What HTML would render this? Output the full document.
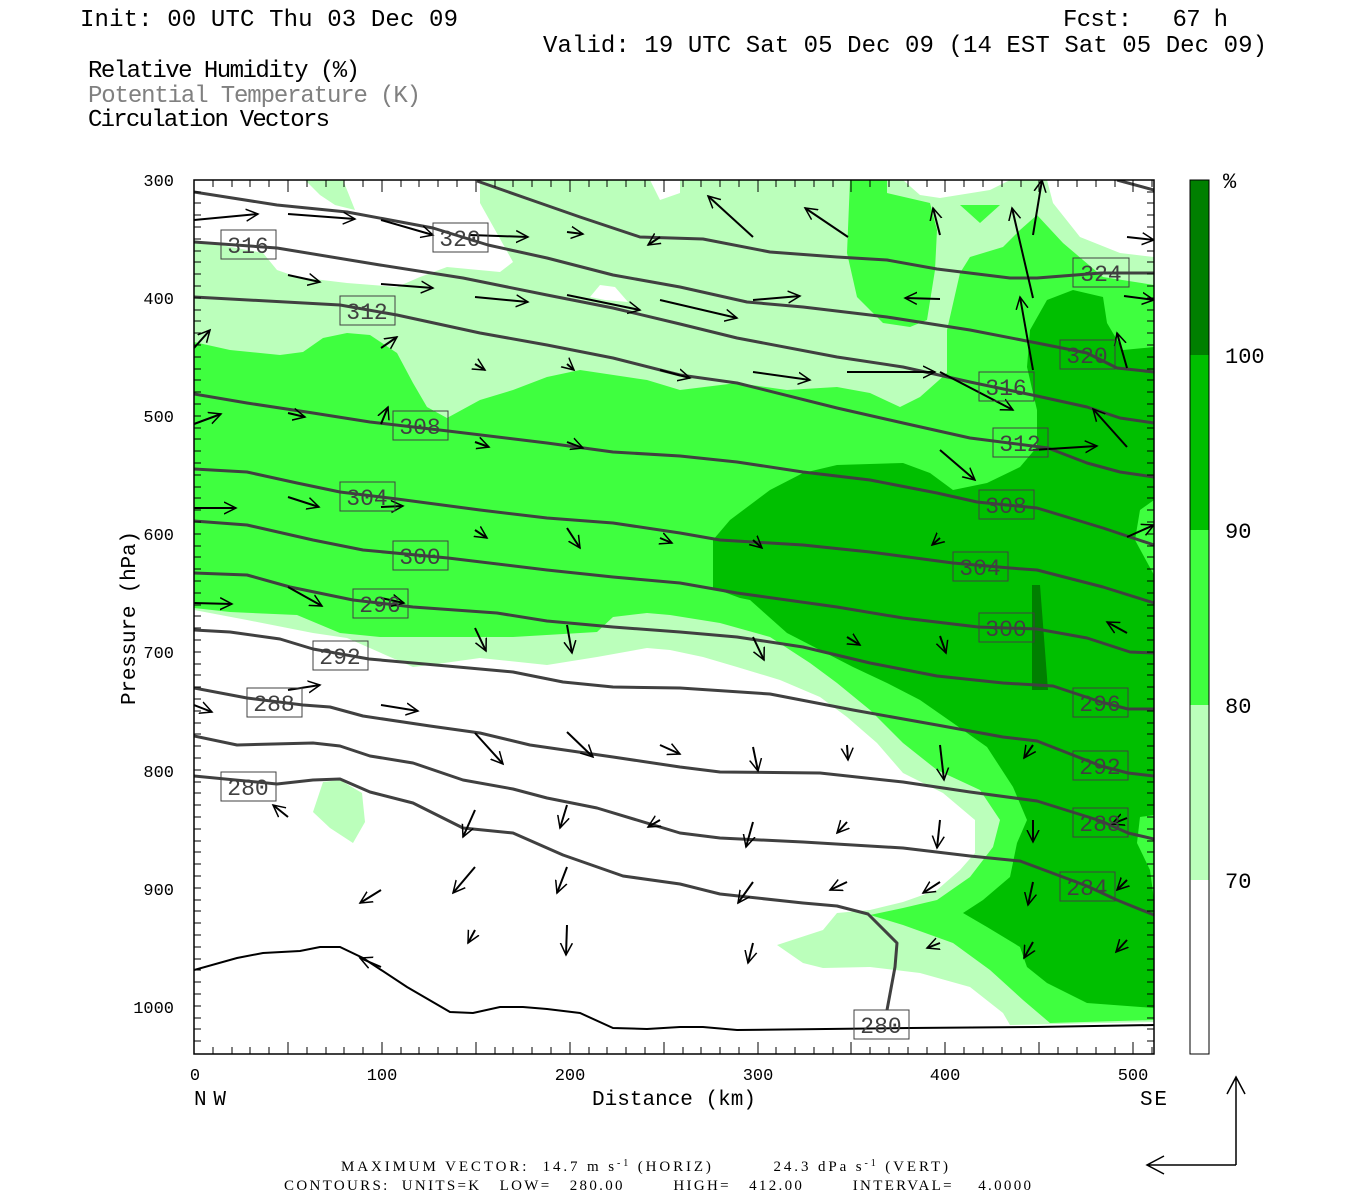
<!DOCTYPE html>
<html><head><meta charset="utf-8"><style>body{margin:0;background:#fff}svg{display:block}</style></head><body>
<svg width="1350" height="1200" viewBox="0 0 1350 1200" xmlns="http://www.w3.org/2000/svg" font-family="Liberation Mono, monospace">
<defs>
<marker id="ah" markerUnits="userSpaceOnUse" markerWidth="14" markerHeight="14" refX="12" refY="7" orient="auto"><path d="M0,1 L12,7 L0,13" fill="none" stroke="#000" stroke-width="1.5"/></marker>
<clipPath id="pc"><rect x="194" y="180" width="960" height="874"/></clipPath>
</defs>
<g font-size="24" fill="#000">
<text x="80" y="26" textLength="378">Init: 00 UTC Thu 03 Dec 09</text>
<text x="1063" y="26" textLength="165" xml:space="preserve">Fcst:   67 h</text>
<text x="543" y="52" textLength="724">Valid: 19 UTC Sat 05 Dec 09 (14 EST Sat 05 Dec 09)</text>
<text x="88" y="77" textLength="272">Relative Humidity (%)</text>
<text x="88" y="102" textLength="333" fill="#808080">Potential Temperature (K)</text>
<text x="88" y="126" textLength="242">Circulation Vectors</text>
</g>
<g clip-path="url(#pc)">
<polygon fill="#bbffbb" points="194,180 1154,180 1154,1022 1010,1025 1003,1013 970,987 920,973 870,967 823,968 803,963 777,945 823,930 837,913 870,910 903,902 937,890 960,870 975,853 975,820 943,793 903,773 877,743 847,717 820,697 780,680 737,667 703,657 670,650 647,648 597,657 547,665 480,658 430,665 413,667 347,638 313,633 247,620 194,610"/>
<polygon fill="#fff" points="194,180 305,180 320,195 335,205 355,210 343,180 480,180 480,203 513,262 500,272 447,267 420,277 397,287 347,283 297,277 277,270 263,253 194,240"/>
<polygon fill="#fff" points="590,297 600,285 615,287 628,302 605,300"/>
<polygon fill="#fff" points="650,180 680,180 680,193 660,200"/>
<polygon fill="#fff" points="903,180 1010,180 990,190 940,198 920,195"/>
<polygon fill="#fff" points="1047,180 1154,180 1154,257 1120,253 1080,237 1053,203"/>
<polygon fill="#bbffbb" points="313,812 323,782 340,780 362,793 365,822 353,843 330,828"/>
<polygon fill="#3fff3f" points="194,342 230,350 280,355 303,352 323,338 347,333 370,335 397,353 413,383 427,407 447,418 480,400 513,390 547,377 580,370 647,380 680,390 737,383 787,390 837,387 870,393 900,407 920,397 947,373 947,330 960,273 970,257 1003,247 1020,230 1037,215 1063,243 1103,277 1154,285 1154,1020 1050,1023 1023,1000 990,970 953,943 903,925 870,915 903,908 937,900 970,877 993,847 1000,820 980,790 937,770 903,743 870,710 837,683 810,663 770,637 720,623 670,615 647,613 613,617 597,632 513,637 380,637 340,633 297,615 230,612 194,608"/>
<polygon fill="#3fff3f" points="850,180 887,180 887,193 930,203 937,230 935,270 927,320 910,327 883,323 857,297 847,253"/>
<polygon fill="#3fff3f" points="960,205 1000,205 980,223"/>
<polygon fill="#00bf00" points="713,540 730,520 770,490 803,473 837,465 903,463 930,473 953,490 987,483 1020,467 1037,447 1037,410 1027,367 1030,330 1047,300 1073,290 1103,297 1107,323 1123,350 1154,347 1154,1008 1087,1003 1047,983 1027,967 1020,947 987,927 963,913 983,900 1010,877 1017,843 1027,820 1013,787 987,747 953,723 920,700 887,683 853,667 820,650 787,633 750,600 740,598 713,588"/>
<polygon fill="#3fff3f" points="1154,500 1140,510 1135,540 1154,575"/>
<polygon fill="#3fff3f" points="1154,815 1140,817 1137,843 1150,870 1154,900"/>
<polygon fill="#007f00" points="1032,585 1040,585 1048,690 1032,690"/>
<g fill="none" stroke="#404040" stroke-width="3" stroke-linejoin="round">
<polyline points="1117,180 1154,190"/>
<polyline points="477,181 537,202 580,217 640,237 703,239 770,252 837,257 887,260 937,269 1010,278 1037,278 1101,273 1154,273"/>
<polyline points="194,192 277,205 347,212 433,228 488,245 547,258 613,275 680,287 747,302 803,307 887,317 970,330 1037,343 1087,353 1117,368 1154,372"/>
<polyline points="194,242 277,248 380,265 463,278 547,295 613,308 680,324 737,338 837,357 903,367 970,382 1037,396 1087,407 1120,418 1154,423"/>
<polyline points="194,297 340,305 397,315 480,333 547,345 613,358 680,375 737,383 837,408 903,423 970,438 1048,448 1087,463 1120,472 1154,477"/>
<polyline points="194,394 247,403 313,413 370,422 448,431 547,443 613,452 680,456 737,462 803,472 870,480 937,493 977,502 1037,508 1103,528 1154,545"/>
<polyline points="194,469 247,472 297,483 340,492 397,499 480,510 547,518 613,523 680,533 720,540 803,545 870,552 953,563 1010,568 1037,570 1103,587 1154,603"/>
<polyline points="194,521 247,525 313,540 363,550 448,558 547,570 613,577 680,583 737,593 837,607 903,618 978,627 1037,629 1087,638 1130,652 1154,653"/>
<polyline points="194,573 247,575 290,587 353,600 413,607 497,613 547,621 613,627 680,632 737,637 803,647 870,663 937,676 1003,683 1053,686 1101,702 1128,709 1154,709"/>
<polyline points="194,630 230,632 280,639 313,649 369,659 447,666 513,672 563,682 613,687 680,688 770,694 853,710 937,725 1003,737 1037,741 1101,766 1128,773 1154,776"/>
<polyline points="194,688 247,698 303,705 330,707 363,716 430,726 480,733 530,745 613,757 680,767 720,772 820,773 903,782 970,792 1037,801 1101,821 1128,833 1154,839"/>
<polyline points="194,736 237,745 313,743 340,746 370,756 413,763 463,780 513,789 547,798 597,808 680,833 720,838 803,842 903,848 970,856 1020,861 1087,886 1117,900 1154,915"/>
<polyline points="194,776 277,784 313,780 340,779 370,792 413,803 463,828 513,833 563,855 623,876 680,884 720,894 803,903 837,906 868,914 897,943 895,967 887,1010"/>
</g>
<polyline fill="none" stroke="#000" stroke-width="2" points="194,970 237,958 263,953 300,951 320,947 340,947 363,958 407,987 450,1012 473,1013 500,1007 523,1007 547,1009 580,1013 613,1028 647,1029 680,1027 703,1027 737,1030 910,1028 1037,1027 1154,1025"/>
<g stroke="#000" stroke-width="2" marker-end="url(#ah)">
<line x1="194" y1="220" x2="258" y2="214"/><line x1="288" y1="214" x2="355" y2="219"/><line x1="381" y1="220" x2="433" y2="235"/><line x1="470" y1="235" x2="528" y2="237"/><line x1="567" y1="232" x2="583" y2="234"/><line x1="660" y1="237" x2="648" y2="245"/><line x1="753" y1="237" x2="708" y2="196"/><line x1="848" y1="237" x2="805" y2="208"/><line x1="940" y1="235" x2="933" y2="208"/><line x1="1033" y1="298" x2="1012" y2="208"/><line x1="1033" y1="235" x2="1042" y2="180"/><line x1="1127" y1="237" x2="1154" y2="240"/>
<line x1="288" y1="275" x2="320" y2="282"/><line x1="381" y1="284" x2="433" y2="288"/><line x1="475" y1="297" x2="528" y2="302"/><line x1="567" y1="295" x2="640" y2="310"/><line x1="660" y1="300" x2="737" y2="318"/><line x1="753" y1="300" x2="800" y2="296"/><line x1="940" y1="299" x2="905" y2="298"/><line x1="1033" y1="370" x2="1020" y2="297"/><line x1="1124" y1="296" x2="1154" y2="300"/>
<line x1="194" y1="348" x2="210" y2="330"/><line x1="381" y1="348" x2="397" y2="337"/><line x1="475" y1="364" x2="485" y2="370"/><line x1="567" y1="364" x2="574" y2="370"/><line x1="660" y1="370" x2="690" y2="378"/><line x1="753" y1="372" x2="810" y2="380"/><line x1="847" y1="372" x2="935" y2="372"/><line x1="940" y1="372" x2="1013" y2="410"/><line x1="1127" y1="368" x2="1117" y2="333"/>
<line x1="194" y1="424" x2="221" y2="414"/><line x1="288" y1="413" x2="305" y2="417"/><line x1="381" y1="424" x2="388" y2="407"/><line x1="475" y1="442" x2="489" y2="447"/><line x1="567" y1="442" x2="583" y2="448"/><line x1="940" y1="450" x2="975" y2="480"/><line x1="1033" y1="450" x2="1097" y2="446"/><line x1="1127" y1="447" x2="1093" y2="409"/>
<line x1="194" y1="508" x2="236" y2="508"/><line x1="288" y1="497" x2="319" y2="507"/><line x1="381" y1="507" x2="403" y2="506"/><line x1="475" y1="530" x2="487" y2="538"/><line x1="567" y1="528" x2="580" y2="548"/><line x1="660" y1="538" x2="672" y2="543"/><line x1="753" y1="540" x2="762" y2="548"/><line x1="940" y1="538" x2="932" y2="545"/><line x1="1127" y1="537" x2="1154" y2="525"/>
<line x1="194" y1="603" x2="232" y2="604"/><line x1="288" y1="587" x2="322" y2="606"/><line x1="381" y1="598" x2="404" y2="603"/><line x1="475" y1="628" x2="486" y2="651"/><line x1="567" y1="625" x2="572" y2="653"/><line x1="753" y1="637" x2="764" y2="660"/><line x1="847" y1="637" x2="860" y2="645"/><line x1="940" y1="636" x2="946" y2="653"/><line x1="1127" y1="633" x2="1107" y2="622"/>
<line x1="194" y1="705" x2="212" y2="712"/><line x1="288" y1="690" x2="320" y2="685"/><line x1="381" y1="705" x2="418" y2="711"/><line x1="475" y1="733" x2="503" y2="764"/><line x1="567" y1="732" x2="593" y2="757"/><line x1="660" y1="745" x2="680" y2="754"/><line x1="753" y1="747" x2="758" y2="771"/><line x1="847" y1="745" x2="848" y2="760"/><line x1="940" y1="745" x2="944" y2="780"/><line x1="1033" y1="745" x2="1024" y2="758"/>
<line x1="288" y1="817" x2="273" y2="805"/><line x1="475" y1="810" x2="463" y2="837"/><line x1="567" y1="805" x2="560" y2="828"/><line x1="660" y1="820" x2="648" y2="827"/><line x1="753" y1="822" x2="746" y2="847"/><line x1="847" y1="822" x2="837" y2="833"/><line x1="940" y1="820" x2="937" y2="848"/><line x1="1033" y1="820" x2="1033" y2="842"/><line x1="1127" y1="818" x2="1112" y2="824"/>
<line x1="381" y1="890" x2="360" y2="903"/><line x1="475" y1="867" x2="453" y2="893"/><line x1="567" y1="867" x2="557" y2="893"/><line x1="753" y1="882" x2="738" y2="903"/><line x1="847" y1="882" x2="830" y2="890"/><line x1="940" y1="882" x2="923" y2="893"/><line x1="1033" y1="882" x2="1028" y2="905"/><line x1="1127" y1="880" x2="1117" y2="890"/>
<line x1="381" y1="967" x2="360" y2="958"/><line x1="475" y1="930" x2="468" y2="943"/><line x1="567" y1="925" x2="566" y2="955"/><line x1="753" y1="943" x2="748" y2="963"/><line x1="940" y1="943" x2="927" y2="948"/><line x1="1033" y1="942" x2="1024" y2="958"/><line x1="1127" y1="940" x2="1116" y2="952"/>
</g>
</g>
<g font-size="23" fill="#404040" stroke="#404040" stroke-width="1">
<g fill="none"><rect x="221" y="230" width="55" height="29"/><rect x="433" y="223" width="55" height="29"/><rect x="340" y="296" width="55" height="29"/><rect x="393" y="411" width="55" height="29"/><rect x="340" y="482" width="55" height="29"/><rect x="393" y="541" width="55" height="29"/><rect x="353" y="589" width="55" height="29"/><rect x="313" y="641" width="55" height="29"/><rect x="247" y="688" width="55" height="29"/><rect x="221" y="772" width="55" height="29"/>
<rect x="1073" y="258" width="56" height="29"/><rect x="1060" y="340" width="55" height="29"/><rect x="979" y="372" width="55" height="29"/><rect x="993" y="428" width="55" height="29"/><rect x="979" y="490" width="55" height="29"/><rect x="953" y="552" width="55" height="29"/><rect x="979" y="613" width="55" height="29"/><rect x="1073" y="688" width="55" height="29"/><rect x="1073" y="751" width="55" height="29"/><rect x="1073" y="808" width="55" height="29"/><rect x="1060" y="872" width="55" height="29"/><rect x="854" y="1010" width="55" height="29"/></g>
<g stroke="none" text-anchor="middle">
<text x="248" y="253">316</text><text x="460" y="246">320</text><text x="367" y="319">312</text><text x="420" y="434">308</text><text x="367" y="505">304</text><text x="420" y="564">300</text><text x="380" y="612">296</text><text x="340" y="664">292</text><text x="274" y="711">288</text><text x="248" y="795">280</text>
<text x="1101" y="281">324</text><text x="1087" y="363">320</text><text x="1006" y="395">316</text><text x="1020" y="451">312</text><text x="1006" y="513">308</text><text x="980" y="575">304</text><text x="1006" y="636">300</text><text x="1100" y="711">296</text><text x="1100" y="774">292</text><text x="1100" y="831">288</text><text x="1087" y="895">284</text><text x="881" y="1033">280</text></g>
</g>
<rect x="194" y="180" width="960" height="874" fill="none" stroke="#000" stroke-width="1.5"/>
<g stroke="#000" stroke-width="1">
<path d="M194,192h7M194,203h7M194,215h7M194,227h7M194,239h7M194,251h7M194,262h7M194,274h7M194,286h7M194,298h7M194,310h7M194,321h7M194,333h7M194,345h7M194,357h7M194,369h7M194,380h7M194,392h7M194,404h7M194,416h7M194,428h7M194,439h7M194,451h7M194,463h7M194,475h7M194,487h7M194,498h7M194,510h7M194,522h7M194,534h7M194,546h7M194,557h7M194,569h7M194,581h7M194,593h7M194,605h7M194,616h7M194,628h7M194,640h7M194,652h7M194,664h7M194,675h7M194,687h7M194,699h7M194,711h7M194,723h7M194,734h7M194,746h7M194,758h7M194,770h7M194,782h7M194,793h7M194,805h7M194,817h7M194,829h7M194,841h7M194,852h7M194,864h7M194,876h7M194,888h7M194,900h7M194,911h7M194,923h7M194,935h7M194,947h7M194,959h7M194,970h7M194,982h7M194,994h7M194,1006h7M194,1018h7M194,1029h7M194,1041h7"/>
<path d="M1154,192h-7M1154,203h-7M1154,215h-7M1154,227h-7M1154,239h-7M1154,251h-7M1154,262h-7M1154,274h-7M1154,286h-7M1154,298h-7M1154,310h-7M1154,321h-7M1154,333h-7M1154,345h-7M1154,357h-7M1154,369h-7M1154,380h-7M1154,392h-7M1154,404h-7M1154,416h-7M1154,428h-7M1154,439h-7M1154,451h-7M1154,463h-7M1154,475h-7M1154,487h-7M1154,498h-7M1154,510h-7M1154,522h-7M1154,534h-7M1154,546h-7M1154,557h-7M1154,569h-7M1154,581h-7M1154,593h-7M1154,605h-7M1154,616h-7M1154,628h-7M1154,640h-7M1154,652h-7M1154,664h-7M1154,675h-7M1154,687h-7M1154,699h-7M1154,711h-7M1154,723h-7M1154,734h-7M1154,746h-7M1154,758h-7M1154,770h-7M1154,782h-7M1154,793h-7M1154,805h-7M1154,817h-7M1154,829h-7M1154,841h-7M1154,852h-7M1154,864h-7M1154,876h-7M1154,888h-7M1154,900h-7M1154,911h-7M1154,923h-7M1154,935h-7M1154,947h-7M1154,959h-7M1154,970h-7M1154,982h-7M1154,994h-7M1154,1006h-7M1154,1018h-7M1154,1029h-7M1154,1041h-7"/>
<path d="M213,180v7M232,180v7M250,180v7M269,180v7M288,180v12M307,180v7M326,180v7M344,180v7M363,180v7M382,180v12M401,180v7M419,180v7M438,180v7M457,180v7M476,180v12M495,180v7M513,180v7M532,180v7M551,180v7M570,180v12M589,180v7M607,180v7M626,180v7M645,180v7M664,180v12M683,180v7M701,180v7M720,180v7M739,180v7M758,180v12M776,180v7M795,180v7M814,180v7M833,180v7M851,180v12M870,180v7M889,180v7M908,180v7M927,180v7M945,180v12M964,180v7M983,180v7M1002,180v7M1021,180v7M1039,180v12M1058,180v7M1077,180v7M1096,180v7M1115,180v7M1133,180v12M1152,180v7"/>
<path d="M213,1054v-7M232,1054v-7M250,1054v-7M269,1054v-7M288,1054v-12M307,1054v-7M326,1054v-7M344,1054v-7M363,1054v-7M382,1054v-12M401,1054v-7M419,1054v-7M438,1054v-7M457,1054v-7M476,1054v-12M495,1054v-7M513,1054v-7M532,1054v-7M551,1054v-7M570,1054v-12M589,1054v-7M607,1054v-7M626,1054v-7M645,1054v-7M664,1054v-12M683,1054v-7M701,1054v-7M720,1054v-7M739,1054v-7M758,1054v-12M776,1054v-7M795,1054v-7M814,1054v-7M833,1054v-7M851,1054v-12M870,1054v-7M889,1054v-7M908,1054v-7M927,1054v-7M945,1054v-12M964,1054v-7M983,1054v-7M1002,1054v-7M1021,1054v-7M1039,1054v-12M1058,1054v-7M1077,1054v-7M1096,1054v-7M1115,1054v-7M1133,1054v-12M1152,1054v-7"/>
</g>
<g font-size="17" fill="#000" text-anchor="end">
<text x="174" y="186">300</text><text x="174" y="304">400</text><text x="174" y="422">500</text><text x="174" y="540">600</text><text x="174" y="658">700</text><text x="174" y="777">800</text><text x="174" y="895">900</text><text x="174" y="1013">1000</text>
</g>
<g font-size="17" fill="#000" text-anchor="middle">
<text x="195" y="1080">0</text><text x="382" y="1080">100</text><text x="570" y="1080">200</text><text x="758" y="1080">300</text><text x="945" y="1080">400</text><text x="1133" y="1080">500</text>
</g>
<g font-size="21" fill="#000">
<text x="194" y="1105" textLength="32">NW</text><text x="1140" y="1105" textLength="27">SE</text>
<text x="592" y="1105" textLength="164">Distance (km)</text>
<text transform="translate(135,705) rotate(-90)" textLength="174">Pressure (hPa)</text>
</g>
<rect x="1190" y="180" width="19" height="175" fill="#007f00"/>
<rect x="1190" y="355" width="19" height="175" fill="#00bf00"/>
<rect x="1190" y="530" width="19" height="175" fill="#3fff3f"/>
<rect x="1190" y="705" width="19" height="175" fill="#bbffbb"/>
<rect x="1190" y="880" width="19" height="174" fill="#fff"/>
<rect x="1190" y="180" width="19" height="874" fill="none" stroke="#000" stroke-width="1"/>
<g font-size="22" fill="#000">
<text x="1223" y="188">%</text><text x="1225" y="363">100</text><text x="1225" y="538">90</text><text x="1225" y="713">80</text><text x="1225" y="888">70</text>
</g>
<g font-family="Liberation Serif, serif" font-size="15" fill="#000">
<text x="341" y="1171" xml:space="preserve" textLength="607">MAXIMUM VECTOR:  14.7 m s<tspan dy="-5" font-size="10">-1</tspan><tspan dy="5"> (HORIZ)         24.3 dPa s</tspan><tspan dy="-5" font-size="10">-1</tspan><tspan dy="5"> (VERT)</tspan></text>
<text x="284" y="1190" xml:space="preserve" textLength="747">CONTOURS:  UNITS=K   LOW=   280.00        HIGH=   412.00        INTERVAL=    4.0000</text>
</g>
<g stroke="#000" stroke-width="1.5" fill="none">
<path d="M1236,1165V1077M1227,1094L1236,1077L1245,1094"/>
<path d="M1236,1165H1147M1164,1156L1147,1165L1164,1174"/>
</g>
</svg>
</body></html>
